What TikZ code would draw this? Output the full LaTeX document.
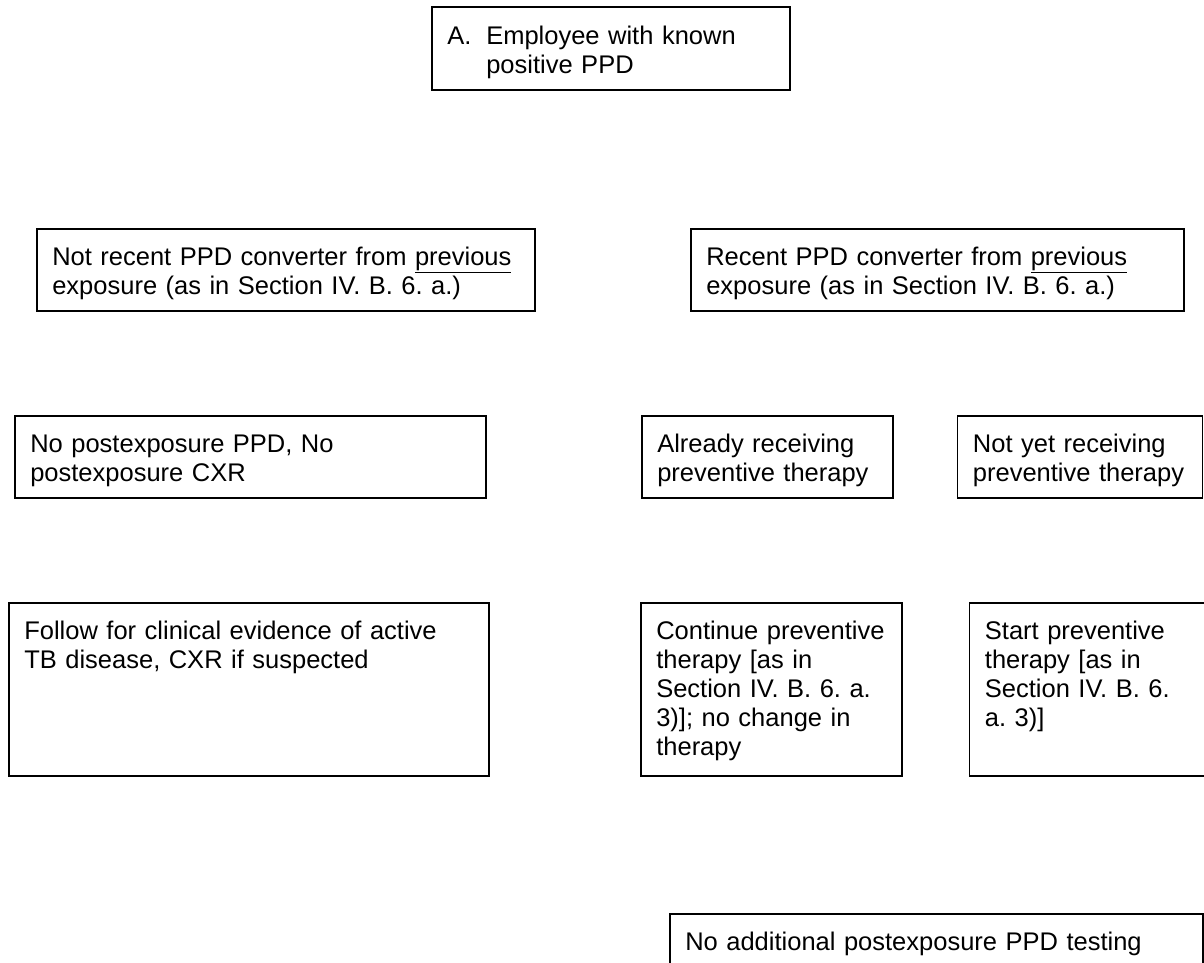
\documentclass[tikz,border=0pt]{standalone}
\usepackage{fontspec}
\setmainfont{Liberation Sans}
\usetikzlibrary{positioning}
\frenchspacing

\begin{document}
\begin{tikzpicture}[x=1pt, y=-1pt,
% Define a custom style for the boxes
    stepbox/.style={
        draw,
        rectangle,
        line width=1.6pt,
        anchor=north west,
        align=left,
        inner xsep=15.5pt,
        inner ysep=0pt,
        text height=37pt,
        font=\fontsize{25.5}{29}\selectfont
        }
]
\useasboundingbox (0,0) rectangle (1204,962);

\node[stepbox, text width=327pt, text depth=45pt, text height=38pt] (A) at (431,6)
    {\makebox[39pt][l]{A.}Employee with known\\\hspace*{39pt}positive PPD};

\node[stepbox, text width=467pt, text depth=45pt] (B) at (36,228)
    {Not recent PPD converter from \underline{previous}\\exposure (as in Section IV. B. 6. a.)};
\node[stepbox, text width=462pt, text depth=45pt] (C) at (690,228)
    {Recent PPD converter from \underline{previous}\\exposure (as in Section IV. B. 6. a.)};

\node[stepbox, text width=440pt, text depth=45pt] (D) at (14,415)
    {No postexposure PPD, No\\postexposure CXR};
\node[stepbox, text width=220pt, text depth=45pt] (E) at (641,415)
    {Already receiving\\preventive therapy};
\node[stepbox, text width=214pt, text depth=45pt, right=63pt of E] (F)
    {Not yet receiving\\preventive therapy};

\node[stepbox, text width=449pt, text depth=136pt] (G) at (8,602)
    {Follow for clinical evidence of active\\TB disease, CXR if suspected};
\node[stepbox, text width=230pt, text depth=136pt] (H) at (640,602)
    {Continue preventive\\therapy [as in\\Section IV. B. 6. a.\\3)]; no change in\\therapy};
\node[stepbox, text width=229pt, text depth=136pt, right=66pt of H] (I)
    {Start preventive\\therapy [as in\\Section IV. B. 6.\\a. 3)]};

\node[stepbox, text width=502pt, text depth=60pt] (J) at (669,913)
    {No additional postexposure PPD testing};

\end{tikzpicture}
\end{document}
